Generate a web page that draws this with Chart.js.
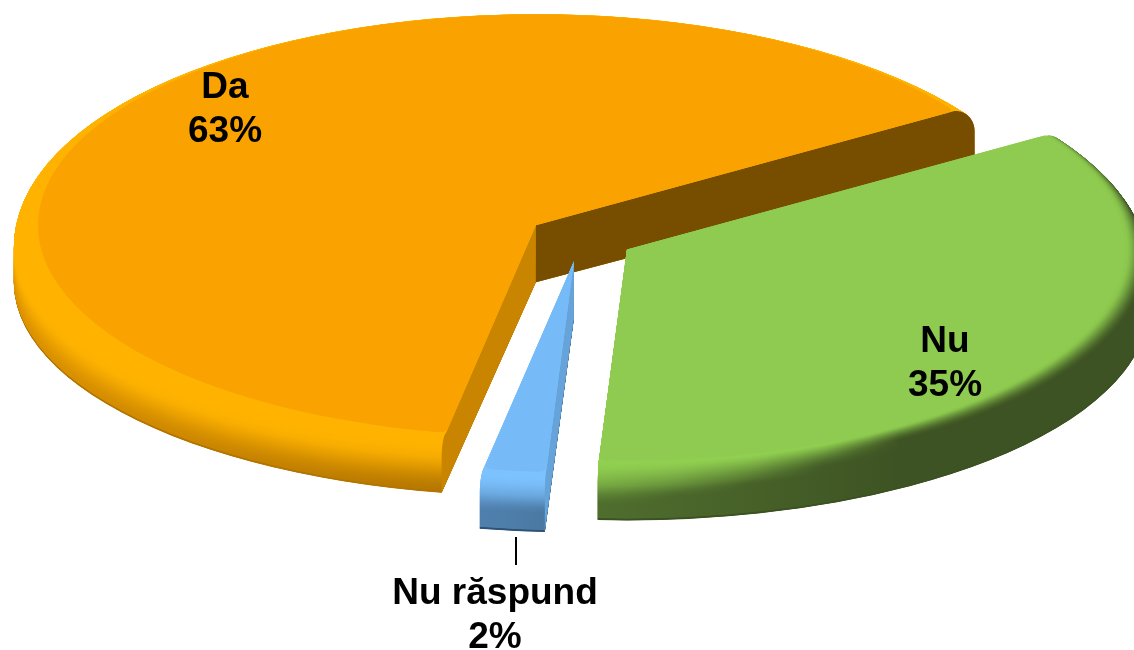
<!DOCTYPE html>
<html>
<head>
<meta charset="utf-8">
<script src="https://cdn.jsdelivr.net/npm/chart.js@4"></script>
<style>
  html, body { margin: 0; padding: 0; background: #fff; }
  #wrap { width: 1134px; height: 650px; overflow: hidden; }
  canvas { display: block; }
</style>
</head>
<body>
<div id="wrap"><canvas id="myChart" width="1134" height="650"></canvas></div>
<script>
// chart values
const categories = ['Da', 'Nu', 'Nu răspund'];
const values = [63, 35, 2];

// slice colours
const topColors = ['#faa300', '#8ecb50', '#76bbf7'];
const rimLight = ['#ffb300', '#90cf50', '#7cc2ff'];
const rimDarkLeft = ['#dc9200', '#4f6e2d', '#4f80ad'];
const rimDarkRight = ['#b47600', '#3e5323', '#4a78a2'];
const rimEdge = ['#b47600', '#3e5323', '#2f5578'];
const wallStart = ['#c98500', '#3e5323', '#65a3d8'];
const wallEnd = ['#774d00', '#3e5323', '#4f80ad'];
const sliceOffsets = [24.3, 24.3, 25.1];

// where the light to dark change of the rim sits, as a part of the depth
const fadeLeft = [[0.3, 1], [0.12, 0.75], [0.15, 0.7]];
const fadeRight = [[0.2, 1], [0, 0.25], [0.15, 0.7]];
const rimXRange = [[14, 450], [600, 900], [484, 552]];

// size of the tilted pie on the page
const flatRx = 498, flatRy = 211;
const outerRx = 522, outerRy = 214;
const bevel = 22, depth = 57;

// label places on the page
const labelX = [225, 945, 495];
const labelY = [88, 342, 594];
const lineHeight = 44;

function hexToRgb(h) {
  return [parseInt(h.slice(1, 3), 16), parseInt(h.slice(3, 5), 16), parseInt(h.slice(5, 7), 16)];
}
function mixRgb(x, y, t) {
  return x.map((v, i) => Math.round(v + (y[i] - v) * t));
}
function smooth(z, range) {
  let t = (z - range[0]) / (range[1] - range[0]);
  t = Math.min(1, Math.max(0, t));
  return t * t * (3 - 2 * t);
}
// radii of the rim at height z under the top face
function rimAt(z) {
  if (z >= bevel) return [outerRx, outerRy];
  const c = 1 - z / bevel;
  const s = Math.sqrt(1 - c * c);
  return [flatRx + (outerRx - flatRx) * s, flatRy + (outerRy - flatRy) * s];
}
// place on the rim profile, 0 at the top face and 1 at the bottom edge
function rimPlace(z) {
  if (z >= bevel) return z / depth;
  return Math.acos(1 - z / bevel) / (Math.PI / 2) * bevel / depth;
}
function wedge(ctx, ax, ay, rx, ry, a0, a1, round) {
  ctx.beginPath();
  ctx.moveTo(ax, ay);
  if (round > 0) {
    const k = 1 - round;
    ctx.lineTo(ax + rx * k * Math.cos(a0), ay + ry * k * Math.sin(a0));
    ctx.quadraticCurveTo(ax + rx * Math.cos(a0), ay + ry * Math.sin(a0),
      ax + rx * Math.cos(a0 + round), ay + ry * Math.sin(a0 + round));
    ctx.ellipse(ax, ay, rx, ry, 0, a0 + round, a1 - round);
    ctx.quadraticCurveTo(ax + rx * Math.cos(a1), ay + ry * Math.sin(a1),
      ax + rx * k * Math.cos(a1), ay + ry * k * Math.sin(a1));
  } else {
    ctx.ellipse(ax, ay, rx, ry, 0, a0, a1);
  }
  ctx.closePath();
}
function wall(ctx, ax, ay, a, color) {
  ctx.beginPath();
  ctx.moveTo(ax, ay);
  for (let z = 0; z <= depth; z += 0.25) {
    const r = rimAt(z);
    ctx.lineTo(ax + r[0] * Math.cos(a), ay + z + r[1] * Math.sin(a));
  }
  ctx.lineTo(ax, ay + depth);
  ctx.closePath();
  ctx.fillStyle = color;
  ctx.fill();
}

// the library has no tilted pie: take its arc elements and draw them with depth
const tiltedPie = {
  id: 'tiltedPie',
  beforeDatasetsDraw(chart) {
    const ctx = chart.ctx;
    const arcs = chart.getDatasetMeta(0).data;
    ctx.save();
    arcs.forEach((arc, i) => {
      const a0 = arc.startAngle, a1 = arc.endAngle, mid = (a0 + a1) / 2;
      const sx = flatRx / arc.outerRadius, sy = flatRy / arc.outerRadius;
      const off = arc.options.offset;
      const ax = arc.x + Math.cos(mid) * off * sx;
      const ay = arc.y + Math.sin(mid) * off * sy;
      const light = hexToRgb(rimLight[i]);
      const darkL = hexToRgb(rimDarkLeft[i]), darkR = hexToRgb(rimDarkRight[i]);

      // rim, from the bottom up
      for (let z = depth; z >= 0; z -= 0.25) {
        const r = rimAt(z);
        const u = rimPlace(z);
        const g = ctx.createLinearGradient(rimXRange[i][0], 0, rimXRange[i][1], 0);
        for (let s = 0; s <= 4; s++) {
          const f = s / 4;
          const range = [fadeLeft[i][0] + (fadeRight[i][0] - fadeLeft[i][0]) * f,
            fadeLeft[i][1] + (fadeRight[i][1] - fadeLeft[i][1]) * f];
          const dark = mixRgb(darkL, darkR, f);
          g.addColorStop(f, 'rgb(' + mixRgb(light, dark, smooth(u, range)).join(',') + ')');
        }
        ctx.fillStyle = z > depth - 2 ? rimEdge[i] : g;
        wedge(ctx, ax, ay + z, r[0], r[1], a0, a1, 0);
        ctx.fill();
      }

      // only the cut faces turned to the viewer show
      if (Math.cos(a0) < 0) wall(ctx, ax, ay, a0, wallStart[i]);
      if (Math.cos(a1) > 0) wall(ctx, ax, ay, a1, wallEnd[i]);

      // top face
      wedge(ctx, ax, ay, flatRx, flatRy, a0, a1, 0.02);
      ctx.fillStyle = arc.options.backgroundColor;
      ctx.fill();
    });
    ctx.restore();
    return false;
  },
  afterDraw(chart) {
    const ctx = chart.ctx;
    const total = values.reduce((s, v) => s + v, 0);
    ctx.save();
    // leader line of the small slice
    ctx.strokeStyle = '#000';
    ctx.lineWidth = 2;
    ctx.beginPath();
    ctx.moveTo(516, 537);
    ctx.lineTo(516, 565);
    ctx.stroke();
    ctx.fillStyle = '#000';
    ctx.font = 'bold 37px "Liberation Sans", Arial, sans-serif';
    ctx.textAlign = 'center';
    ctx.textBaseline = 'middle';
    categories.forEach((name, i) => {
      ctx.fillText(name, labelX[i], labelY[i]);
      ctx.fillText(Math.round(values[i] / total * 100) + '%', labelX[i], labelY[i] + lineHeight);
    });
    ctx.restore();
  }
};

var ctx = document.getElementById('myChart').getContext('2d');
var myChart = new Chart(ctx, {
  type: 'pie',
  data: {
    labels: categories,
    datasets: [{
      data: values,
      backgroundColor: topColors,
      offset: sliceOffsets,
      borderWidth: 0
    }]
  },
  options: {
    responsive: false,
    animation: false,
    rotation: 190.4,
    layout: { padding: { left: 27, bottom: 174 } },
    plugins: {
      legend: { display: false },
      tooltip: { enabled: false }
    }
  },
  plugins: [tiltedPie]
});
</script>
</body>
</html>
